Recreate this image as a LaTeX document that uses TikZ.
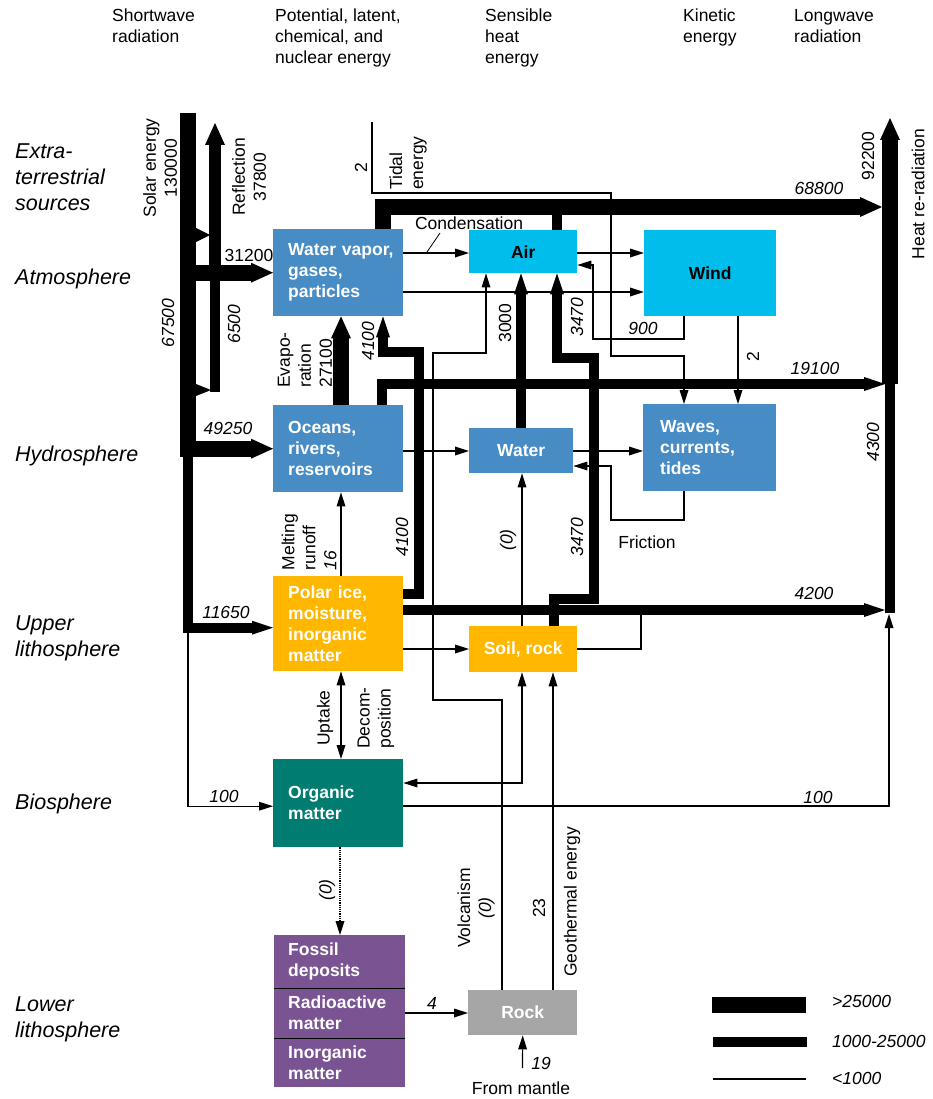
\documentclass[tikz,border=0pt]{standalone}
\usepackage{fontspec}
\setmainfont{Liberation Sans}
\usetikzlibrary{arrows.meta}

\definecolor{seablue}{RGB}{72,140,198}
\definecolor{skycyan}{RGB}{0,189,235}
\definecolor{iceamber}{RGB}{255,183,0}
\definecolor{lifeteal}{RGB}{0,124,112}
\definecolor{deeppurple}{RGB}{122,83,146}
\definecolor{rockgray}{RGB}{166,166,166}

\newcommand{\lblfont}{\fontsize{17.5}{21}\selectfont}
\newcommand{\rowfont}{\fontsize{21.5}{26}\selectfont\itshape}

\tikzset{
  flowL/.style={line width=16pt},
  flowR/.style={line width=12pt},
  flowM/.style={line width=10pt},
  flowS/.style={line width=1.2pt},
  tipL/.style={-{Triangle[length=22pt,width=20pt,line width=0pt]}},
  tipM/.style={-{Triangle[length=21pt,width=14pt,line width=0pt]}},
  tipS/.style={-{Triangle[length=14pt,width=9pt,line width=0pt]}},
  bothS/.style={{Triangle[length=14pt,width=9pt,line width=0pt]}-{Triangle[length=14pt,width=9pt,line width=0pt]}},
  store/.style={rectangle, anchor=north west, inner xsep=15pt, inner ysep=0pt, align=left, font=\lblfont\bfseries, text=white},
  cell/.style={rectangle, anchor=north west, inner sep=0pt, align=center, font=\lblfont\bfseries},
  num/.style={font=\lblfont\itshape},
}

\begin{document}
\begin{tikzpicture}[x=1pt, y=-1pt, font=\lblfont]
\useasboundingbox (0,0) rectangle (933,1099);

% column heads
\begin{scope}[every node/.style={anchor=north west, align=left, inner sep=0pt}]
\node (hshort) at (112,9) {Shortwave\\radiation};
\node (hpot) at (275,9) {Potential, latent,\\chemical, and\\nuclear energy};
\node (hsens) at (485,9) {Sensible\\heat\\energy};
\node (hkin) at (683,9) {Kinetic\\energy};
\node (hlong) at (794,9) {Longwave\\radiation};
\end{scope}

% row heads
\begin{scope}[every node/.style={anchor=west, align=left, inner sep=0pt, font=\rowfont}]
\node (rext) at (15,177) {Extra-\\terrestrial\\sources};
\node (ratm) at (15,279) {Atmosphere};
\node (rhyd) at (15,456) {Hydrosphere};
\node (rupl) at (15,638) {Upper\\lithosphere};
\node (rbio) at (15,804) {Biosphere};
\node (rlol) at (15,1019) {Lower\\lithosphere};
\end{scope}

% stores
\node[store, fill=seablue, text width=100pt, minimum height=87pt] (wvap) at (273,229) {\mbox{Water vapor,}\\gases,\\particles};
\node[cell, fill=skycyan, minimum width=108pt, minimum height=43pt] (air) at (469,230) {Air};
\node[cell, fill=skycyan, minimum width=132pt, minimum height=86pt] (wind) at (644,230) {Wind};
\node[store, fill=seablue, text width=100pt, minimum height=87pt] (oceans) at (273,405) {Oceans,\\rivers,\\reservoirs};
\node[cell, fill=seablue, text=white, minimum width=104pt, minimum height=45pt] (water) at (469,428) {Water};
\node[store, fill=seablue, inner xsep=17pt, text width=99pt, minimum height=87pt] (waves) at (643,404) {Waves,\\currents,\\tides};
\node[store, fill=iceamber, text width=100pt, minimum height=95pt] (polar) at (273,576) {Polar ice,\\moisture,\\inorganic\\matter};
\node[cell, fill=iceamber, text=white, minimum width=108pt, minimum height=46pt] (soil) at (469,626) {Soil, rock};
\node[store, fill=lifeteal, text width=100pt, minimum height=88pt] (organic) at (273,759) {Organic\\matter};
\node[store, fill=deeppurple, inner xsep=14pt, text width=103pt, minimum height=53pt] (fossil) at (274,935) {Fossil\\deposits};
\node[store, fill=deeppurple, inner xsep=14pt, text width=103pt, minimum height=50pt] (radio) at (274,988) {Radioactive\\matter};
\node[store, fill=deeppurple, inner xsep=14pt, text width=103pt, minimum height=49pt] (inorg) at (274,1038) {Inorganic\\matter};
\draw[line width=1.3pt] (fossil.south west) -- (fossil.south east);
\draw[line width=1.3pt] (radio.south west) -- (radio.south east);
\node[cell, fill=rockgray, text=white, minimum width=109pt, minimum height=45pt] (rock) at (468,990) {Rock};

% coordinates
\coordinate (sun) at (188,113);
\coordinate (sunfoot) at (188,628);
\coordinate (refl) at (215,123);
\coordinate (reflfoot) at (215,392);
\coordinate (tide) at (372,122);
\coordinate (heattop) at (890,118);
\coordinate (heatmid) at (890,384);
\coordinate (heatbot) at (890,613);
\coordinate (in68) at (882,207);
\coordinate (in19) at (885,384);
\coordinate (in42) at (885,610);
\coordinate (in100) at (889,614);
\coordinate (mantle) at (522.5,1068);

% shortwave
\draw[flowL, tipL] (sun) |- (oceans.west);
\draw[flowL, tipL] (sun |- wvap.west) -- (wvap.west);
\draw[flowM, tipM] (sun |- oceans.west) |- ([yshift=-4pt]polar.west);
\draw[flowS, tipS] (sunfoot) |- ([yshift=-3pt]organic.west);
\draw[flowM] (reflfoot) -- (refl |- wvap.west);
\draw[flowR, tipL] (refl |- wvap.west) -- (refl);
\fill (196,228) -- (210,235) -- (196,242) -- cycle;
\fill (196,384) -- (211,390) -- (196,396) -- cycle;

% longwave
\draw[flowM] (heatbot) -- (heatmid);
\draw[flowL, tipL] (heatmid) -- (heattop);
\draw[flowL, tipL] ([xshift=110pt]wvap.north west) |- (in68);
\draw[flowM] ([xshift=88pt]air.north west) -- ++(0,-28);
\draw[flowM, tipM] ([xshift=109pt]oceans.north west) |- (in19);
\draw[flowM, tipM] ([yshift=-34pt]polar.north east) -- (in42);
\draw[flowS] ([yshift=-23pt]soil.north east) -| (641,610);
\draw[flowS, tipS] ([yshift=-47pt]organic.north east) -| (in100);

% heavy flows
\draw[flowL, tipL] ([xshift=68pt]oceans.north west) -- ([xshift=68pt]wvap.south west);
\draw[flowM, tipM] ([yshift=-18pt]polar.north east) -| (419,352) -| ([xshift=110pt]wvap.south west);
\draw[flowM, tipM] ([xshift=52pt]water.north west) -- ([xshift=52pt]air.south west);
\draw[flowM, tipM] ([xshift=85pt]soil.north west) |- (594,599) |- (557,358) -- ([xshift=88pt]air.south west);

% light flows
\draw[flowS, tipS] ([yshift=-24pt]wvap.north east) -- ([yshift=-23pt]air.north west);
\draw[flowS, tipS] ([yshift=-63pt]wvap.north east) -- ([yshift=-62pt]wind.north west);
\draw[flowS, tipS] ([yshift=-23pt]air.north east) -- ([yshift=-23pt]wind.north west);
\draw[flowS, tipS] ([xshift=40pt]wind.south west) |- (593,339) |- ([yshift=-35pt]air.north east);
\draw[flowS, tipS] (tide) |- (611,193) -- (611,356) -| ([xshift=41pt]waves.north west);
\draw[flowS, tipS] ([xshift=94pt]wind.south west) -- ([xshift=95pt]waves.north west);
\draw[flowS, tipS] ([yshift=-46pt]oceans.north east) -- ([yshift=-23pt]water.north west);
\draw[flowS, tipS] ([yshift=-23pt]water.north east) -- ([yshift=-47pt]waves.north west);
\draw[flowS, tipS] ([xshift=41pt]waves.south west) |- (611,520) |- ([yshift=-38pt]water.north east);
\draw[flowS, tipS] ([xshift=68pt]polar.north west) -- ([xshift=68pt]oceans.south west);
\draw[flowS, tipS] ([yshift=-73pt]polar.north east) -- ([yshift=-23pt]soil.north west);
\draw[flowS, tipS] ([xshift=53pt]soil.north west) -- ([xshift=53pt]water.south west);
\draw[flowS, bothS] ([xshift=68pt]polar.south west) -- ([xshift=68pt]organic.north west);
\draw[flowS, bothS] ([xshift=53pt]soil.south west) |- ([yshift=-24pt]organic.north east);
\draw[flowS, densely dotted, tipS] ([xshift=67pt]organic.south west) -- ([xshift=66pt]fossil.north west);
\draw[flowS, tipS] ([xshift=34pt]rock.north west) |- (433,700) |- (486,353) -- ([xshift=17pt]air.south west);
\draw[flowS, tipS] ([xshift=85pt]rock.north west) -- ([xshift=84pt]soil.south west);
\draw[flowS, tipS] ([yshift=-25pt]radio.north east) -- ([yshift=-23pt]rock.north west);
\draw[flowS, tipS] (mantle) -- (rock.south);

% labels along the flows
\begin{scope}[every node/.style={rotate=90, inner sep=0pt, align=center}]
\node (lsolar) at (160,168) {Solar energy\\130000};
\node (lrefl) at (249,177) {Reflection\\37800};
\node[num] (l675) at (168,323) {67500};
\node[num] (l65) at (234,324) {6500};
\node[align=left] (levap) at (305,360) {Evapo-\\ration\\27100};
\node[num] (l41a) at (368,341) {4100};
\node[num] (l41b) at (402,537) {4100};
\node (ltide) at (361,168) {2};
\node[align=left] (ltidal) at (408,163) {Tidal\\energy};
\node (l3000) at (505,323) {3000};
\node[num] (l347a) at (577,317) {3470};
\node[num] (l347b) at (577,537) {3470};
\node[num] (lzw) at (508,540) {(0)};
\node (lwind2) at (753,357) {2};
\node (l922) at (868,156) {92200};
\node (lheat) at (918,194) {Heat re-radiation};
\node[num] (l43) at (873,442) {4300};
\node[align=left] (lmelt) at (309,542) {Melting\\runoff\\\textit{16}};
\node (lup) at (325,718) {Uptake};
\node[align=left] (ldec) at (376,718) {Decom-\\position};
\node[num] (lzf) at (327,890) {(0)};
\node (lvolc) at (476,908) {Volcanism\\\textit{(0)}};
\node (l23) at (539,908) {23};
\node (lgeo) at (572,902) {Geothermal energy};
\end{scope}

\begin{scope}[every node/.style={inner sep=0pt}]
\node (l312) at (249,255) {31200};
\node[num] (l4925) at (228,428) {49250};
\node[num] (l1165) at (226,612) {11650};
\node[num] (l100a) at (224,796) {100};
\node (lcond) at (469,223) {Condensation};
\node[num] (l688) at (819,188) {68800};
\node[num] (l191) at (815,368) {19100};
\node[num] (l42) at (814,593) {4200};
\node[num] (l900) at (643,328) {900};
\node[num] (l100b) at (818,797) {100};
\node (lfric) at (647,542) {Friction};
\node[num] (l4) at (432,1003) {4};
\node[num] (l19) at (541,1063) {19};
\node (lmant) at (521,1088) {From mantle};
\end{scope}
\draw[line width=0.8pt] (440,233) -- (427,252);

% legend
\draw[flowL] (712,1005) -- (806,1005);
\draw[flowM] (713,1042) -- (807,1042);
\draw[flowS] (713,1079) -- (806,1079);
\begin{scope}[every node/.style={num, anchor=west, inner sep=0pt}]
\node (kL) at (832,1001) {>25000};
\node (kM) at (832,1041) {1000-25000};
\node (kS) at (832,1078) {<1000};
\end{scope}

\end{tikzpicture}
\end{document}
